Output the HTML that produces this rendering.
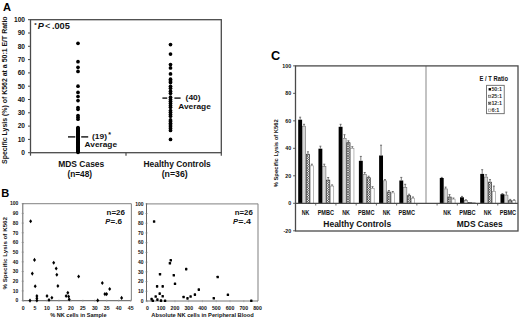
<!DOCTYPE html>
<html><head><meta charset="utf-8"><title>Figure</title>
<style>
html,body{margin:0;padding:0;background:#fff;}
body{width:520px;height:322px;overflow:hidden;}
svg{display:block;font-family:"Liberation Sans",sans-serif;}
</style></head>
<body>
<svg width="520" height="322" viewBox="0 0 520 322" fill="#111">
<rect width="520" height="322" fill="#fff"/>
<text x="3" y="10.7" font-size="10.8" font-weight="bold" textLength="8" lengthAdjust="spacingAndGlyphs" fill="#000">A</text>
<text transform="translate(7.08,90.2) rotate(-90)" x="0" y="0" font-size="6.9" text-anchor="middle" font-weight="bold" textLength="147.6" lengthAdjust="spacingAndGlyphs">Specific Lysis (%) of K562 at a 50:1 E/T Ratio</text>
<text x="25" y="155.05" font-size="6.6" text-anchor="end" font-weight="bold">0</text>
<line x1="28" y1="152.7" x2="30.5" y2="152.7" stroke="#444" stroke-width="1"/>
<text x="25" y="141.75" font-size="6.6" text-anchor="end" font-weight="bold">10</text>
<line x1="28" y1="139.4" x2="30.5" y2="139.4" stroke="#444" stroke-width="1"/>
<text x="25" y="128.45" font-size="6.6" text-anchor="end" font-weight="bold">20</text>
<line x1="28" y1="126.1" x2="30.5" y2="126.1" stroke="#444" stroke-width="1"/>
<text x="25" y="115.15" font-size="6.6" text-anchor="end" font-weight="bold">30</text>
<line x1="28" y1="112.8" x2="30.5" y2="112.8" stroke="#444" stroke-width="1"/>
<text x="25" y="101.85" font-size="6.6" text-anchor="end" font-weight="bold">40</text>
<line x1="28" y1="99.5" x2="30.5" y2="99.5" stroke="#444" stroke-width="1"/>
<text x="25" y="88.55" font-size="6.6" text-anchor="end" font-weight="bold">50</text>
<line x1="28" y1="86.2" x2="30.5" y2="86.2" stroke="#444" stroke-width="1"/>
<text x="25" y="75.25" font-size="6.6" text-anchor="end" font-weight="bold">60</text>
<line x1="28" y1="72.9" x2="30.5" y2="72.9" stroke="#444" stroke-width="1"/>
<text x="25" y="61.95" font-size="6.6" text-anchor="end" font-weight="bold">70</text>
<line x1="28" y1="59.6" x2="30.5" y2="59.6" stroke="#444" stroke-width="1"/>
<text x="25" y="48.65" font-size="6.6" text-anchor="end" font-weight="bold">80</text>
<line x1="28" y1="46.3" x2="30.5" y2="46.3" stroke="#444" stroke-width="1"/>
<text x="25" y="35.35" font-size="6.6" text-anchor="end" font-weight="bold">90</text>
<line x1="28" y1="33" x2="30.5" y2="33" stroke="#444" stroke-width="1"/>
<text x="25" y="22.05" font-size="6.6" text-anchor="end" font-weight="bold">100</text>
<line x1="28" y1="19.7" x2="30.5" y2="19.7" stroke="#444" stroke-width="1"/>
<rect x="30.5" y="19.7" width="190.8" height="133" fill="none" stroke="#4a4a4a" stroke-width="1.3"/>
<line x1="30.5" y1="152.7" x2="30.5" y2="155.7" stroke="#4a4a4a" stroke-width="1.2"/>
<line x1="126" y1="152.7" x2="126" y2="155.7" stroke="#4a4a4a" stroke-width="1.2"/>
<line x1="221.3" y1="152.7" x2="221.3" y2="155.7" stroke="#4a4a4a" stroke-width="1.2"/>
<text x="34.2" y="27" font-size="6.2" font-weight="bold">*</text>
<text x="37.8" y="29.4" font-size="8.6" font-weight="bold" font-style="italic" textLength="6.1" lengthAdjust="spacingAndGlyphs">P</text>
<text x="44.9" y="29.4" font-size="8.6" textLength="5.4" lengthAdjust="spacingAndGlyphs" fill="#000">&lt;</text>
<text x="51.9" y="29.4" font-size="8.6" font-weight="bold" textLength="18" lengthAdjust="spacingAndGlyphs">.005</text>
<circle cx="78" cy="43.3" r="1.85" fill="#000"/>
<circle cx="78" cy="61.7" r="1.85" fill="#000"/>
<circle cx="78" cy="67.3" r="1.85" fill="#000"/>
<circle cx="78" cy="71.4" r="1.85" fill="#000"/>
<circle cx="78" cy="86.2" r="1.85" fill="#000"/>
<circle cx="78" cy="92.4" r="1.85" fill="#000"/>
<circle cx="78" cy="96.5" r="1.85" fill="#000"/>
<circle cx="78" cy="100.6" r="1.85" fill="#000"/>
<circle cx="78" cy="107.5" r="1.85" fill="#000"/>
<circle cx="78" cy="109.3" r="1.85" fill="#000"/>
<circle cx="78" cy="115.5" r="1.85" fill="#000"/>
<circle cx="78" cy="117.3" r="1.85" fill="#000"/>
<circle cx="78" cy="119.2" r="1.85" fill="#000"/>
<circle cx="78" cy="127.6" r="1.85" fill="#000"/>
<circle cx="78" cy="128.33" r="1.85" fill="#000"/>
<circle cx="78" cy="129.05" r="1.85" fill="#000"/>
<circle cx="78" cy="129.78" r="1.85" fill="#000"/>
<circle cx="78" cy="130.51" r="1.85" fill="#000"/>
<circle cx="78" cy="131.23" r="1.85" fill="#000"/>
<circle cx="78" cy="131.96" r="1.85" fill="#000"/>
<circle cx="78" cy="132.69" r="1.85" fill="#000"/>
<circle cx="78" cy="133.41" r="1.85" fill="#000"/>
<circle cx="78" cy="134.14" r="1.85" fill="#000"/>
<circle cx="78" cy="134.86" r="1.85" fill="#000"/>
<circle cx="78" cy="135.59" r="1.85" fill="#000"/>
<circle cx="78" cy="136.32" r="1.85" fill="#000"/>
<circle cx="78" cy="137.04" r="1.85" fill="#000"/>
<circle cx="78" cy="137.77" r="1.85" fill="#000"/>
<circle cx="78" cy="138.5" r="1.85" fill="#000"/>
<circle cx="78" cy="139.22" r="1.85" fill="#000"/>
<circle cx="78" cy="139.95" r="1.85" fill="#000"/>
<circle cx="78" cy="140.68" r="1.85" fill="#000"/>
<circle cx="78" cy="141.4" r="1.85" fill="#000"/>
<circle cx="78" cy="142.13" r="1.85" fill="#000"/>
<circle cx="78" cy="142.86" r="1.85" fill="#000"/>
<circle cx="78" cy="143.58" r="1.85" fill="#000"/>
<circle cx="78" cy="144.31" r="1.85" fill="#000"/>
<circle cx="78" cy="145.04" r="1.85" fill="#000"/>
<circle cx="78" cy="145.76" r="1.85" fill="#000"/>
<circle cx="78" cy="146.49" r="1.85" fill="#000"/>
<circle cx="78" cy="147.21" r="1.85" fill="#000"/>
<circle cx="78" cy="147.94" r="1.85" fill="#000"/>
<circle cx="78" cy="148.67" r="1.85" fill="#000"/>
<circle cx="78" cy="149.39" r="1.85" fill="#000"/>
<circle cx="78" cy="150.12" r="1.85" fill="#000"/>
<circle cx="78" cy="150.85" r="1.85" fill="#000"/>
<circle cx="78" cy="151.57" r="1.85" fill="#000"/>
<circle cx="78" cy="152.3" r="1.85" fill="#000"/>
<circle cx="170.5" cy="44.6" r="1.85" fill="#000"/>
<circle cx="170.5" cy="54.1" r="1.85" fill="#000"/>
<circle cx="170.5" cy="64.5" r="1.85" fill="#000"/>
<circle cx="170.5" cy="67.9" r="1.85" fill="#000"/>
<circle cx="170.5" cy="73.9" r="1.85" fill="#000"/>
<circle cx="170.5" cy="139.4" r="1.85" fill="#000"/>
<circle cx="170.5" cy="79.2" r="1.85" fill="#000"/>
<circle cx="170.5" cy="80.9" r="1.85" fill="#000"/>
<circle cx="170.5" cy="82.6" r="1.85" fill="#000"/>
<circle cx="170.5" cy="86.3" r="1.85" fill="#000"/>
<circle cx="170.5" cy="88.2" r="1.85" fill="#000"/>
<circle cx="170.5" cy="91.2" r="1.85" fill="#000"/>
<circle cx="170.5" cy="93.3" r="1.85" fill="#000"/>
<circle cx="170.5" cy="97.2" r="1.85" fill="#000"/>
<circle cx="170.5" cy="99.4" r="1.85" fill="#000"/>
<circle cx="170.5" cy="101.3" r="1.85" fill="#000"/>
<circle cx="170.5" cy="103.2" r="1.85" fill="#000"/>
<circle cx="170.5" cy="105.4" r="1.85" fill="#000"/>
<circle cx="170.5" cy="107.3" r="1.85" fill="#000"/>
<circle cx="170.5" cy="110.6" r="1.85" fill="#000"/>
<circle cx="170.5" cy="112.3" r="1.85" fill="#000"/>
<circle cx="170.5" cy="114.5" r="1.85" fill="#000"/>
<circle cx="170.5" cy="116.2" r="1.85" fill="#000"/>
<circle cx="170.5" cy="119.9" r="1.85" fill="#000"/>
<circle cx="170.5" cy="121.4" r="1.85" fill="#000"/>
<circle cx="170.5" cy="123.3" r="1.85" fill="#000"/>
<circle cx="170.5" cy="124.9" r="1.85" fill="#000"/>
<circle cx="170.5" cy="126.7" r="1.85" fill="#000"/>
<circle cx="170.5" cy="128.4" r="1.85" fill="#000"/>
<circle cx="170.5" cy="130.4" r="1.85" fill="#000"/>
<line x1="68" y1="136.9" x2="75.3" y2="136.9" stroke="#111" stroke-width="1.4"/>
<line x1="81.2" y1="136.9" x2="88.2" y2="136.9" stroke="#111" stroke-width="1.4"/>
<line x1="162.4" y1="98.1" x2="167.2" y2="98.1" stroke="#111" stroke-width="1.4"/>
<line x1="174.4" y1="98.1" x2="180.6" y2="98.1" stroke="#111" stroke-width="1.4"/>
<text x="92" y="139.3" font-size="7.5" font-weight="bold" textLength="15" lengthAdjust="spacingAndGlyphs">(19)</text>
<text x="108.2" y="136.5" font-size="7" font-weight="bold">*</text>
<text x="84.6" y="147.2" font-size="7.5" font-weight="bold" textLength="32.4" lengthAdjust="spacingAndGlyphs">Average</text>
<text x="185.6" y="100.3" font-size="7.5" font-weight="bold" textLength="15" lengthAdjust="spacingAndGlyphs">(40)</text>
<text x="178.2" y="108.5" font-size="7.5" font-weight="bold" textLength="32.6" lengthAdjust="spacingAndGlyphs">Average</text>
<text x="58.2" y="167.2" font-size="8.6" font-weight="bold" textLength="46.1" lengthAdjust="spacingAndGlyphs">MDS Cases</text>
<text x="67.4" y="176.8" font-size="8.6" font-weight="bold" textLength="24.6" lengthAdjust="spacingAndGlyphs">(n=48)</text>
<text x="143.5" y="167.2" font-size="8.6" font-weight="bold" textLength="67.3" lengthAdjust="spacingAndGlyphs">Healthy Controls</text>
<text x="161.7" y="176.8" font-size="8.6" font-weight="bold" textLength="26" lengthAdjust="spacingAndGlyphs">(n=36)</text>
<text x="1.2" y="196.8" font-size="11.5" font-weight="bold" textLength="8" lengthAdjust="spacingAndGlyphs" fill="#000">B</text>
<line x1="22.8" y1="203.7" x2="131.4" y2="203.7" stroke="#9a9a9a" stroke-width="1.3"/>
<line x1="131.4" y1="203.7" x2="131.4" y2="300.6" stroke="#8a8a8a" stroke-width="1.1"/>
<line x1="22.8" y1="300.6" x2="131.4" y2="300.6" stroke="#777" stroke-width="1.2"/>
<line x1="22.8" y1="203.1" x2="22.8" y2="301.2" stroke="#666" stroke-width="1"/>
<text x="18.3" y="302.35" font-size="5" text-anchor="end" font-weight="bold">0</text>
<line x1="21.6" y1="300.6" x2="24" y2="300.6" stroke="#888" stroke-width="0.6"/>
<text x="18.3" y="292.66" font-size="5" text-anchor="end" font-weight="bold">10</text>
<line x1="21.6" y1="290.91" x2="24" y2="290.91" stroke="#888" stroke-width="0.6"/>
<text x="18.3" y="282.97" font-size="5" text-anchor="end" font-weight="bold">20</text>
<line x1="21.6" y1="281.22" x2="24" y2="281.22" stroke="#888" stroke-width="0.6"/>
<text x="18.3" y="273.28" font-size="5" text-anchor="end" font-weight="bold">30</text>
<line x1="21.6" y1="271.53" x2="24" y2="271.53" stroke="#888" stroke-width="0.6"/>
<text x="18.3" y="263.59" font-size="5" text-anchor="end" font-weight="bold">40</text>
<line x1="21.6" y1="261.84" x2="24" y2="261.84" stroke="#888" stroke-width="0.6"/>
<text x="18.3" y="253.9" font-size="5" text-anchor="end" font-weight="bold">50</text>
<line x1="21.6" y1="252.15" x2="24" y2="252.15" stroke="#888" stroke-width="0.6"/>
<text x="18.3" y="244.21" font-size="5" text-anchor="end" font-weight="bold">60</text>
<line x1="21.6" y1="242.46" x2="24" y2="242.46" stroke="#888" stroke-width="0.6"/>
<text x="18.3" y="234.52" font-size="5" text-anchor="end" font-weight="bold">70</text>
<line x1="21.6" y1="232.77" x2="24" y2="232.77" stroke="#888" stroke-width="0.6"/>
<text x="18.3" y="224.83" font-size="5" text-anchor="end" font-weight="bold">80</text>
<line x1="21.6" y1="223.08" x2="24" y2="223.08" stroke="#888" stroke-width="0.6"/>
<text x="18.3" y="215.14" font-size="5" text-anchor="end" font-weight="bold">90</text>
<line x1="21.6" y1="213.39" x2="24" y2="213.39" stroke="#888" stroke-width="0.6"/>
<text x="18.3" y="205.45" font-size="5" text-anchor="end" font-weight="bold">100</text>
<line x1="21.6" y1="203.7" x2="24" y2="203.7" stroke="#888" stroke-width="0.6"/>
<text x="23.1" y="309.5" font-size="5.2" text-anchor="middle" font-weight="bold">0</text>
<line x1="23.1" y1="299.6" x2="23.1" y2="301.8" stroke="#999" stroke-width="0.6"/>
<text x="35.05" y="309.5" font-size="5.2" text-anchor="middle" font-weight="bold">5</text>
<line x1="35.05" y1="299.6" x2="35.05" y2="301.8" stroke="#999" stroke-width="0.6"/>
<text x="47" y="309.5" font-size="5.2" text-anchor="middle" font-weight="bold">10</text>
<line x1="47" y1="299.6" x2="47" y2="301.8" stroke="#999" stroke-width="0.6"/>
<text x="58.95" y="309.5" font-size="5.2" text-anchor="middle" font-weight="bold">15</text>
<line x1="58.95" y1="299.6" x2="58.95" y2="301.8" stroke="#999" stroke-width="0.6"/>
<text x="70.9" y="309.5" font-size="5.2" text-anchor="middle" font-weight="bold">20</text>
<line x1="70.9" y1="299.6" x2="70.9" y2="301.8" stroke="#999" stroke-width="0.6"/>
<text x="82.85" y="309.5" font-size="5.2" text-anchor="middle" font-weight="bold">25</text>
<line x1="82.85" y1="299.6" x2="82.85" y2="301.8" stroke="#999" stroke-width="0.6"/>
<text x="94.8" y="309.5" font-size="5.2" text-anchor="middle" font-weight="bold">30</text>
<line x1="94.8" y1="299.6" x2="94.8" y2="301.8" stroke="#999" stroke-width="0.6"/>
<text x="106.75" y="309.5" font-size="5.2" text-anchor="middle" font-weight="bold">35</text>
<line x1="106.75" y1="299.6" x2="106.75" y2="301.8" stroke="#999" stroke-width="0.6"/>
<text x="118.7" y="309.5" font-size="5.2" text-anchor="middle" font-weight="bold">40</text>
<line x1="118.7" y1="299.6" x2="118.7" y2="301.8" stroke="#999" stroke-width="0.6"/>
<text x="130.65" y="309.5" font-size="5.2" text-anchor="middle" font-weight="bold">45</text>
<line x1="130.65" y1="299.6" x2="130.65" y2="301.8" stroke="#999" stroke-width="0.6"/>
<text x="50.3" y="316.8" font-size="5.6" font-weight="bold" textLength="56.2" lengthAdjust="spacingAndGlyphs">% NK cells in Sample</text>
<path d="M30.6 219.15L32.1 221.2L30.6 223.25L29.1 221.2Z" fill="#000"/>
<path d="M34.5 257.85L36 259.9L34.5 261.95L33 259.9Z" fill="#000"/>
<path d="M32.3 271.55L33.8 273.6L32.3 275.65L30.8 273.6Z" fill="#000"/>
<path d="M35.2 284.15L36.7 286.2L35.2 288.25L33.7 286.2Z" fill="#000"/>
<path d="M30 298.55L31.5 300.6L30 302.65L28.5 300.6Z" fill="#000"/>
<path d="M36.9 293.95L38.4 296L36.9 298.05L35.4 296Z" fill="#000"/>
<path d="M36.9 296.25L38.4 298.3L36.9 300.35L35.4 298.3Z" fill="#000"/>
<path d="M36.9 298.35L38.4 300.4L36.9 302.45L35.4 300.4Z" fill="#000"/>
<path d="M47 293.95L48.5 296L47 298.05L45.5 296Z" fill="#000"/>
<path d="M49 297.95L50.5 300L49 302.05L47.5 300Z" fill="#000"/>
<path d="M51.9 295.65L53.4 297.7L51.9 299.75L50.4 297.7Z" fill="#000"/>
<path d="M53.7 260.75L55.2 262.8L53.7 264.85L52.2 262.8Z" fill="#000"/>
<path d="M56.2 266.45L57.7 268.5L56.2 270.55L54.7 268.5Z" fill="#000"/>
<path d="M56.8 272.75L58.3 274.8L56.8 276.85L55.3 274.8Z" fill="#000"/>
<path d="M57.9 283.95L59.4 286L57.9 288.05L56.4 286Z" fill="#000"/>
<path d="M66.1 293.95L67.6 296L66.1 298.05L64.6 296Z" fill="#000"/>
<path d="M67.8 290.75L69.3 292.8L67.8 294.85L66.3 292.8Z" fill="#000"/>
<path d="M68.6 294.45L70.1 296.5L68.6 298.55L67.1 296.5Z" fill="#000"/>
<path d="M69.2 297.35L70.7 299.4L69.2 301.45L67.7 299.4Z" fill="#000"/>
<path d="M78.6 274.45L80.1 276.5L78.6 278.55L77.1 276.5Z" fill="#000"/>
<path d="M97.7 298.35L99.2 300.4L97.7 302.45L96.2 300.4Z" fill="#000"/>
<path d="M102.3 280.95L103.8 283L102.3 285.05L100.8 283Z" fill="#000"/>
<path d="M109.7 286.95L111.2 289L109.7 291.05L108.2 289Z" fill="#000"/>
<path d="M104.9 292.05L106.4 294.1L104.9 296.15L103.4 294.1Z" fill="#000"/>
<path d="M106.6 292.05L108.1 294.1L106.6 296.15L105.1 294.1Z" fill="#000"/>
<path d="M121.6 295.85L123.1 297.9L121.6 299.95L120.1 297.9Z" fill="#000"/>
<text x="106.6" y="215.3" font-size="7.3" font-weight="bold" textLength="18.4" lengthAdjust="spacingAndGlyphs">n=26</text>
<text x="105.2" y="223.7" font-size="7.3" font-weight="bold" font-style="italic" textLength="5" lengthAdjust="spacingAndGlyphs">P</text>
<text x="110.5" y="223.7" font-size="7.3" font-weight="bold" textLength="11.5" lengthAdjust="spacingAndGlyphs">=.6</text>
<line x1="146.5" y1="203.8" x2="258" y2="203.8" stroke="#9a9a9a" stroke-width="1.3"/>
<line x1="258" y1="203.8" x2="258" y2="301" stroke="#8a8a8a" stroke-width="1.1"/>
<line x1="146.5" y1="301" x2="258" y2="301" stroke="#777" stroke-width="1.2"/>
<line x1="146.5" y1="203.2" x2="146.5" y2="301.6" stroke="#666" stroke-width="1"/>
<text x="143.6" y="302.75" font-size="5" text-anchor="end" font-weight="bold">0</text>
<line x1="145.3" y1="301" x2="147.7" y2="301" stroke="#888" stroke-width="0.6"/>
<text x="143.6" y="293.03" font-size="5" text-anchor="end" font-weight="bold">10</text>
<line x1="145.3" y1="291.28" x2="147.7" y2="291.28" stroke="#888" stroke-width="0.6"/>
<text x="143.6" y="283.31" font-size="5" text-anchor="end" font-weight="bold">20</text>
<line x1="145.3" y1="281.56" x2="147.7" y2="281.56" stroke="#888" stroke-width="0.6"/>
<text x="143.6" y="273.59" font-size="5" text-anchor="end" font-weight="bold">30</text>
<line x1="145.3" y1="271.84" x2="147.7" y2="271.84" stroke="#888" stroke-width="0.6"/>
<text x="143.6" y="263.87" font-size="5" text-anchor="end" font-weight="bold">40</text>
<line x1="145.3" y1="262.12" x2="147.7" y2="262.12" stroke="#888" stroke-width="0.6"/>
<text x="143.6" y="254.15" font-size="5" text-anchor="end" font-weight="bold">50</text>
<line x1="145.3" y1="252.4" x2="147.7" y2="252.4" stroke="#888" stroke-width="0.6"/>
<text x="143.6" y="244.43" font-size="5" text-anchor="end" font-weight="bold">60</text>
<line x1="145.3" y1="242.68" x2="147.7" y2="242.68" stroke="#888" stroke-width="0.6"/>
<text x="143.6" y="234.71" font-size="5" text-anchor="end" font-weight="bold">70</text>
<line x1="145.3" y1="232.96" x2="147.7" y2="232.96" stroke="#888" stroke-width="0.6"/>
<text x="143.6" y="224.99" font-size="5" text-anchor="end" font-weight="bold">80</text>
<line x1="145.3" y1="223.24" x2="147.7" y2="223.24" stroke="#888" stroke-width="0.6"/>
<text x="143.6" y="215.27" font-size="5" text-anchor="end" font-weight="bold">90</text>
<line x1="145.3" y1="213.52" x2="147.7" y2="213.52" stroke="#888" stroke-width="0.6"/>
<text x="143.6" y="205.55" font-size="5" text-anchor="end" font-weight="bold">100</text>
<line x1="145.3" y1="203.8" x2="147.7" y2="203.8" stroke="#888" stroke-width="0.6"/>
<text x="147.4" y="310.2" font-size="5.2" text-anchor="middle" font-weight="bold">0</text>
<line x1="147.4" y1="300" x2="147.4" y2="302.2" stroke="#999" stroke-width="0.6"/>
<text x="161.17" y="310.2" font-size="5.2" text-anchor="middle" font-weight="bold">100</text>
<line x1="161.17" y1="300" x2="161.17" y2="302.2" stroke="#999" stroke-width="0.6"/>
<text x="174.94" y="310.2" font-size="5.2" text-anchor="middle" font-weight="bold">200</text>
<line x1="174.94" y1="300" x2="174.94" y2="302.2" stroke="#999" stroke-width="0.6"/>
<text x="188.71" y="310.2" font-size="5.2" text-anchor="middle" font-weight="bold">300</text>
<line x1="188.71" y1="300" x2="188.71" y2="302.2" stroke="#999" stroke-width="0.6"/>
<text x="202.48" y="310.2" font-size="5.2" text-anchor="middle" font-weight="bold">400</text>
<line x1="202.48" y1="300" x2="202.48" y2="302.2" stroke="#999" stroke-width="0.6"/>
<text x="216.25" y="310.2" font-size="5.2" text-anchor="middle" font-weight="bold">500</text>
<line x1="216.25" y1="300" x2="216.25" y2="302.2" stroke="#999" stroke-width="0.6"/>
<text x="230.02" y="310.2" font-size="5.2" text-anchor="middle" font-weight="bold">600</text>
<line x1="230.02" y1="300" x2="230.02" y2="302.2" stroke="#999" stroke-width="0.6"/>
<text x="243.79" y="310.2" font-size="5.2" text-anchor="middle" font-weight="bold">700</text>
<line x1="243.79" y1="300" x2="243.79" y2="302.2" stroke="#999" stroke-width="0.6"/>
<text x="257.56" y="310.2" font-size="5.2" text-anchor="middle" font-weight="bold">800</text>
<line x1="257.56" y1="300" x2="257.56" y2="302.2" stroke="#999" stroke-width="0.6"/>
<text x="151.3" y="316.8" font-size="5.6" font-weight="bold" textLength="102.5" lengthAdjust="spacingAndGlyphs">Absolute NK cells in Peripheral Blood</text>
<rect x="152.9" y="220.2" width="2.4" height="2.6" rx="0.6" fill="#000"/>
<rect x="169.6" y="259" width="2.4" height="2.6" rx="0.6" fill="#000"/>
<rect x="168.7" y="262" width="2.4" height="2.6" rx="0.6" fill="#000"/>
<rect x="158.8" y="273" width="2.4" height="2.6" rx="0.6" fill="#000"/>
<rect x="185" y="267.8" width="2.4" height="2.6" rx="0.6" fill="#000"/>
<rect x="172.6" y="274" width="2.4" height="2.6" rx="0.6" fill="#000"/>
<rect x="173.8" y="282.5" width="2.4" height="2.6" rx="0.6" fill="#000"/>
<rect x="155.9" y="285.1" width="2.4" height="2.6" rx="0.6" fill="#000"/>
<rect x="161.5" y="285.1" width="2.4" height="2.6" rx="0.6" fill="#000"/>
<rect x="158.5" y="292.3" width="2.4" height="2.6" rx="0.6" fill="#000"/>
<rect x="154.5" y="295.2" width="2.4" height="2.6" rx="0.6" fill="#000"/>
<rect x="161.5" y="294.9" width="2.4" height="2.6" rx="0.6" fill="#000"/>
<rect x="150.4" y="297.8" width="2.4" height="2.6" rx="0.6" fill="#000"/>
<rect x="151.6" y="299.5" width="2.4" height="2.6" rx="0.6" fill="#000"/>
<rect x="156.2" y="298.3" width="2.4" height="2.6" rx="0.6" fill="#000"/>
<rect x="159.8" y="299.3" width="2.4" height="2.6" rx="0.6" fill="#000"/>
<rect x="163.9" y="299.5" width="2.4" height="2.6" rx="0.6" fill="#000"/>
<rect x="182.4" y="295.7" width="2.4" height="2.6" rx="0.6" fill="#000"/>
<rect x="186.3" y="297.1" width="2.4" height="2.6" rx="0.6" fill="#000"/>
<rect x="189.4" y="295.2" width="2.4" height="2.6" rx="0.6" fill="#000"/>
<rect x="193.7" y="293.3" width="2.4" height="2.6" rx="0.6" fill="#000"/>
<rect x="197.6" y="288.3" width="2.4" height="2.6" rx="0.6" fill="#000"/>
<rect x="216.5" y="275.7" width="2.4" height="2.6" rx="0.6" fill="#000"/>
<rect x="212.6" y="297" width="2.4" height="2.6" rx="0.6" fill="#000"/>
<rect x="226.7" y="293.4" width="2.4" height="2.6" rx="0.6" fill="#000"/>
<rect x="250.1" y="299.5" width="2.4" height="2.6" rx="0.6" fill="#000"/>
<text x="234.7" y="215" font-size="7.3" font-weight="bold" textLength="18.1" lengthAdjust="spacingAndGlyphs">n=26</text>
<text x="233" y="224.1" font-size="7.3" font-weight="bold" font-style="italic" textLength="5" lengthAdjust="spacingAndGlyphs">P</text>
<text x="238.3" y="224.1" font-size="7.3" font-weight="bold" textLength="12.7" lengthAdjust="spacingAndGlyphs">=.4</text>
<text transform="translate(6.53,253.3) rotate(-90)" x="0" y="0" font-size="6.2" text-anchor="middle" font-weight="bold" textLength="72.6" lengthAdjust="spacingAndGlyphs">% Specific Lysis of K562</text>
<text x="271" y="60.1" font-size="12.6" font-weight="bold" textLength="9.2" lengthAdjust="spacingAndGlyphs" fill="#000">C</text>
<text transform="translate(277.69,153.3) rotate(-90)" x="0" y="0" font-size="5.8" text-anchor="middle" font-weight="bold" textLength="68" lengthAdjust="spacingAndGlyphs">% Specific Lysis of K562</text>
<text x="291.2" y="232.69" font-size="5.3" text-anchor="end" font-weight="bold">-20</text>
<text x="291.2" y="205.2" font-size="5.3" text-anchor="end" font-weight="bold">0</text>
<text x="291.2" y="177.71" font-size="5.3" text-anchor="end" font-weight="bold">20</text>
<text x="291.2" y="150.22" font-size="5.3" text-anchor="end" font-weight="bold">40</text>
<text x="291.2" y="122.73" font-size="5.3" text-anchor="end" font-weight="bold">60</text>
<text x="291.2" y="95.24" font-size="5.3" text-anchor="end" font-weight="bold">80</text>
<text x="291.2" y="67.75" font-size="5.3" text-anchor="end" font-weight="bold">100</text>
<defs><pattern id="hatch" width="2.4" height="2.4" patternUnits="userSpaceOnUse"><rect width="2.4" height="2.4" fill="#fff"/><path d="M-0.6 -0.6L3 3M3 -0.6L-0.6 3" stroke="#111" stroke-width="0.55"/></pattern></defs>
<rect x="298.2" y="119.7" width="3.9" height="83.6" fill="#000" stroke="none" stroke-width="1"/>
<line x1="300.15" y1="117.2" x2="300.15" y2="119.7" stroke="#555" stroke-width="0.8"/>
<line x1="299.15" y1="117.2" x2="301.15" y2="117.2" stroke="#555" stroke-width="0.8"/>
<rect x="302.4" y="126.2" width="3.3" height="77.1" fill="#d6d6d6" stroke="#666" stroke-width="0.55"/>
<line x1="304.05" y1="124.3" x2="304.05" y2="125.9" stroke="#555" stroke-width="0.8"/>
<line x1="303.05" y1="124.3" x2="305.05" y2="124.3" stroke="#555" stroke-width="0.8"/>
<rect x="306.3" y="154.2" width="3.3" height="49.1" fill="url(#hatch)" stroke="#222" stroke-width="0.6"/>
<line x1="307.95" y1="151.8" x2="307.95" y2="153.9" stroke="#555" stroke-width="0.8"/>
<line x1="306.95" y1="151.8" x2="308.95" y2="151.8" stroke="#555" stroke-width="0.8"/>
<rect x="310.2" y="165.8" width="3.3" height="37.5" fill="#fff" stroke="#888" stroke-width="0.6"/>
<line x1="311.85" y1="164.2" x2="311.85" y2="165.5" stroke="#555" stroke-width="0.8"/>
<line x1="310.85" y1="164.2" x2="312.85" y2="164.2" stroke="#555" stroke-width="0.8"/>
<rect x="318.43" y="148.7" width="3.9" height="54.6" fill="#000" stroke="none" stroke-width="1"/>
<line x1="320.38" y1="146.2" x2="320.38" y2="148.7" stroke="#555" stroke-width="0.8"/>
<line x1="319.38" y1="146.2" x2="321.38" y2="146.2" stroke="#555" stroke-width="0.8"/>
<rect x="322.63" y="166.6" width="3.3" height="36.7" fill="#d6d6d6" stroke="#666" stroke-width="0.55"/>
<line x1="324.28" y1="164.2" x2="324.28" y2="166.3" stroke="#555" stroke-width="0.8"/>
<line x1="323.28" y1="164.2" x2="325.28" y2="164.2" stroke="#555" stroke-width="0.8"/>
<rect x="326.53" y="180.1" width="3.3" height="23.2" fill="url(#hatch)" stroke="#222" stroke-width="0.6"/>
<line x1="328.18" y1="177.5" x2="328.18" y2="179.8" stroke="#555" stroke-width="0.8"/>
<line x1="327.18" y1="177.5" x2="329.18" y2="177.5" stroke="#555" stroke-width="0.8"/>
<rect x="330.43" y="186.1" width="3.3" height="17.2" fill="#fff" stroke="#888" stroke-width="0.6"/>
<line x1="332.08" y1="184.9" x2="332.08" y2="185.8" stroke="#555" stroke-width="0.8"/>
<line x1="331.08" y1="184.9" x2="333.08" y2="184.9" stroke="#555" stroke-width="0.8"/>
<rect x="338.65" y="126.8" width="3.9" height="76.5" fill="#000" stroke="none" stroke-width="1"/>
<line x1="340.6" y1="124.3" x2="340.6" y2="126.8" stroke="#555" stroke-width="0.8"/>
<line x1="339.6" y1="124.3" x2="341.6" y2="124.3" stroke="#555" stroke-width="0.8"/>
<rect x="342.85" y="138.3" width="3.3" height="65" fill="#d6d6d6" stroke="#666" stroke-width="0.55"/>
<line x1="344.5" y1="134.7" x2="344.5" y2="138" stroke="#555" stroke-width="0.8"/>
<line x1="343.5" y1="134.7" x2="345.5" y2="134.7" stroke="#555" stroke-width="0.8"/>
<rect x="346.75" y="142.7" width="3.3" height="60.6" fill="url(#hatch)" stroke="#222" stroke-width="0.6"/>
<line x1="348.4" y1="140.8" x2="348.4" y2="142.4" stroke="#555" stroke-width="0.8"/>
<line x1="347.4" y1="140.8" x2="349.4" y2="140.8" stroke="#555" stroke-width="0.8"/>
<rect x="350.65" y="148.3" width="3.3" height="55" fill="#fff" stroke="#888" stroke-width="0.6"/>
<line x1="352.3" y1="146.7" x2="352.3" y2="148" stroke="#555" stroke-width="0.8"/>
<line x1="351.3" y1="146.7" x2="353.3" y2="146.7" stroke="#555" stroke-width="0.8"/>
<rect x="358.88" y="160.8" width="3.9" height="42.5" fill="#000" stroke="none" stroke-width="1"/>
<line x1="360.83" y1="156.4" x2="360.83" y2="160.8" stroke="#555" stroke-width="0.8"/>
<line x1="359.83" y1="156.4" x2="361.83" y2="156.4" stroke="#555" stroke-width="0.8"/>
<rect x="363.08" y="174.6" width="3.3" height="28.7" fill="#d6d6d6" stroke="#666" stroke-width="0.55"/>
<line x1="364.73" y1="172.5" x2="364.73" y2="174.3" stroke="#555" stroke-width="0.8"/>
<line x1="363.73" y1="172.5" x2="365.73" y2="172.5" stroke="#555" stroke-width="0.8"/>
<rect x="366.98" y="177.7" width="3.3" height="25.6" fill="url(#hatch)" stroke="#222" stroke-width="0.6"/>
<line x1="368.63" y1="176.2" x2="368.63" y2="177.4" stroke="#555" stroke-width="0.8"/>
<line x1="367.63" y1="176.2" x2="369.63" y2="176.2" stroke="#555" stroke-width="0.8"/>
<rect x="370.88" y="188.3" width="3.3" height="15" fill="#fff" stroke="#888" stroke-width="0.6"/>
<line x1="372.53" y1="186.7" x2="372.53" y2="188" stroke="#555" stroke-width="0.8"/>
<line x1="371.53" y1="186.7" x2="373.53" y2="186.7" stroke="#555" stroke-width="0.8"/>
<rect x="379.11" y="155.5" width="3.9" height="47.8" fill="#000" stroke="none" stroke-width="1"/>
<line x1="381.06" y1="145.2" x2="381.06" y2="155.5" stroke="#555" stroke-width="0.8"/>
<line x1="380.06" y1="145.2" x2="382.06" y2="145.2" stroke="#555" stroke-width="0.8"/>
<rect x="383.31" y="180.8" width="3.3" height="22.5" fill="#d6d6d6" stroke="#666" stroke-width="0.55"/>
<line x1="384.96" y1="179.6" x2="384.96" y2="180.5" stroke="#555" stroke-width="0.8"/>
<line x1="383.96" y1="179.6" x2="385.96" y2="179.6" stroke="#555" stroke-width="0.8"/>
<rect x="387.21" y="192" width="3.3" height="11.3" fill="url(#hatch)" stroke="#222" stroke-width="0.6"/>
<line x1="388.86" y1="190.5" x2="388.86" y2="191.7" stroke="#555" stroke-width="0.8"/>
<line x1="387.86" y1="190.5" x2="389.86" y2="190.5" stroke="#555" stroke-width="0.8"/>
<rect x="391.11" y="192.9" width="3.3" height="10.4" fill="#fff" stroke="#888" stroke-width="0.6"/>
<line x1="392.76" y1="191.5" x2="392.76" y2="192.6" stroke="#555" stroke-width="0.8"/>
<line x1="391.76" y1="191.5" x2="393.76" y2="191.5" stroke="#555" stroke-width="0.8"/>
<rect x="399.34" y="180.5" width="3.9" height="22.8" fill="#000" stroke="none" stroke-width="1"/>
<line x1="401.29" y1="177.4" x2="401.29" y2="180.5" stroke="#555" stroke-width="0.8"/>
<line x1="400.29" y1="177.4" x2="402.29" y2="177.4" stroke="#555" stroke-width="0.8"/>
<rect x="403.54" y="187.7" width="3.3" height="15.6" fill="#d6d6d6" stroke="#666" stroke-width="0.55"/>
<line x1="405.19" y1="184.3" x2="405.19" y2="187.4" stroke="#555" stroke-width="0.8"/>
<line x1="404.19" y1="184.3" x2="406.19" y2="184.3" stroke="#555" stroke-width="0.8"/>
<rect x="407.44" y="195.7" width="3.3" height="7.6" fill="url(#hatch)" stroke="#222" stroke-width="0.6"/>
<line x1="409.09" y1="194.2" x2="409.09" y2="195.4" stroke="#555" stroke-width="0.8"/>
<line x1="408.09" y1="194.2" x2="410.09" y2="194.2" stroke="#555" stroke-width="0.8"/>
<rect x="411.34" y="198.2" width="3.3" height="5.1" fill="#fff" stroke="#888" stroke-width="0.6"/>
<line x1="412.99" y1="197" x2="412.99" y2="197.9" stroke="#555" stroke-width="0.8"/>
<line x1="411.99" y1="197" x2="413.99" y2="197" stroke="#555" stroke-width="0.8"/>
<rect x="439.79" y="178" width="3.9" height="25.3" fill="#000" stroke="none" stroke-width="1"/>
<line x1="441.74" y1="177.4" x2="441.74" y2="178" stroke="#555" stroke-width="0.8"/>
<line x1="440.74" y1="177.4" x2="442.74" y2="177.4" stroke="#555" stroke-width="0.8"/>
<rect x="443.99" y="188.9" width="3.3" height="14.4" fill="#d6d6d6" stroke="#666" stroke-width="0.55"/>
<line x1="445.64" y1="187.1" x2="445.64" y2="188.6" stroke="#555" stroke-width="0.8"/>
<line x1="444.64" y1="187.1" x2="446.64" y2="187.1" stroke="#555" stroke-width="0.8"/>
<rect x="447.89" y="197" width="3.3" height="6.3" fill="url(#hatch)" stroke="#222" stroke-width="0.6"/>
<line x1="449.54" y1="194.6" x2="449.54" y2="196.7" stroke="#555" stroke-width="0.8"/>
<line x1="448.54" y1="194.6" x2="450.54" y2="194.6" stroke="#555" stroke-width="0.8"/>
<rect x="451.79" y="199.1" width="3.3" height="4.2" fill="#fff" stroke="#888" stroke-width="0.6"/>
<line x1="453.44" y1="198" x2="453.44" y2="198.8" stroke="#555" stroke-width="0.8"/>
<line x1="452.44" y1="198" x2="454.44" y2="198" stroke="#555" stroke-width="0.8"/>
<rect x="460.02" y="197.3" width="3.9" height="6" fill="#000" stroke="none" stroke-width="1"/>
<line x1="461.97" y1="196.4" x2="461.97" y2="197.3" stroke="#555" stroke-width="0.8"/>
<line x1="460.97" y1="196.4" x2="462.97" y2="196.4" stroke="#555" stroke-width="0.8"/>
<rect x="464.22" y="200.7" width="3.3" height="2.6" fill="#d6d6d6" stroke="#666" stroke-width="0.55"/>
<line x1="465.87" y1="199.8" x2="465.87" y2="200.4" stroke="#555" stroke-width="0.8"/>
<line x1="464.87" y1="199.8" x2="466.87" y2="199.8" stroke="#555" stroke-width="0.8"/>
<rect x="468.12" y="202.5" width="3.3" height="0.8" fill="url(#hatch)" stroke="#222" stroke-width="0.6"/>
<rect x="472.02" y="202.7" width="3.3" height="0.6" fill="#fff" stroke="#888" stroke-width="0.6"/>
<rect x="480.25" y="173.9" width="3.9" height="29.4" fill="#000" stroke="none" stroke-width="1"/>
<line x1="482.2" y1="169.7" x2="482.2" y2="173.9" stroke="#555" stroke-width="0.8"/>
<line x1="481.2" y1="169.7" x2="483.2" y2="169.7" stroke="#555" stroke-width="0.8"/>
<rect x="484.45" y="177.1" width="3.3" height="26.2" fill="#d6d6d6" stroke="#666" stroke-width="0.55"/>
<line x1="486.1" y1="174.7" x2="486.1" y2="176.8" stroke="#555" stroke-width="0.8"/>
<line x1="485.1" y1="174.7" x2="487.1" y2="174.7" stroke="#555" stroke-width="0.8"/>
<rect x="488.35" y="182.1" width="3.3" height="21.2" fill="url(#hatch)" stroke="#222" stroke-width="0.6"/>
<line x1="490" y1="179.6" x2="490" y2="181.8" stroke="#555" stroke-width="0.8"/>
<line x1="489" y1="179.6" x2="491" y2="179.6" stroke="#555" stroke-width="0.8"/>
<rect x="492.25" y="191.3" width="3.3" height="12" fill="#fff" stroke="#888" stroke-width="0.6"/>
<line x1="493.9" y1="186.1" x2="493.9" y2="191" stroke="#555" stroke-width="0.8"/>
<line x1="492.9" y1="186.1" x2="494.9" y2="186.1" stroke="#555" stroke-width="0.8"/>
<rect x="500.47" y="194.2" width="3.9" height="9.1" fill="#000" stroke="none" stroke-width="1"/>
<line x1="502.42" y1="193.6" x2="502.42" y2="194.2" stroke="#555" stroke-width="0.8"/>
<line x1="501.42" y1="193.6" x2="503.42" y2="193.6" stroke="#555" stroke-width="0.8"/>
<rect x="504.67" y="195.1" width="3.3" height="8.2" fill="#d6d6d6" stroke="#666" stroke-width="0.55"/>
<line x1="506.32" y1="192.1" x2="506.32" y2="194.8" stroke="#555" stroke-width="0.8"/>
<line x1="505.32" y1="192.1" x2="507.32" y2="192.1" stroke="#555" stroke-width="0.8"/>
<rect x="508.57" y="200.7" width="3.3" height="2.6" fill="url(#hatch)" stroke="#222" stroke-width="0.6"/>
<line x1="510.22" y1="199.4" x2="510.22" y2="200.4" stroke="#555" stroke-width="0.8"/>
<line x1="509.22" y1="199.4" x2="511.22" y2="199.4" stroke="#555" stroke-width="0.8"/>
<rect x="512.47" y="200.7" width="3.3" height="2.6" fill="#fff" stroke="#888" stroke-width="0.6"/>
<line x1="514.12" y1="199.8" x2="514.12" y2="200.4" stroke="#555" stroke-width="0.8"/>
<line x1="513.12" y1="199.8" x2="515.12" y2="199.8" stroke="#555" stroke-width="0.8"/>
<line x1="426" y1="65.9" x2="426" y2="203.3" stroke="#bdbdbd" stroke-width="1.8"/>
<line x1="295.5" y1="203.3" x2="518" y2="203.3" stroke="#4a4a4a" stroke-width="1.2"/>
<rect x="295.5" y="65.9" width="222.5" height="165.1" fill="none" stroke="#4a4a4a" stroke-width="1.3"/>
<line x1="293.1" y1="230.79" x2="295.5" y2="230.79" stroke="#4a4a4a" stroke-width="0.9"/>
<line x1="293.1" y1="203.3" x2="295.5" y2="203.3" stroke="#4a4a4a" stroke-width="0.9"/>
<line x1="293.1" y1="175.81" x2="295.5" y2="175.81" stroke="#4a4a4a" stroke-width="0.9"/>
<line x1="293.1" y1="148.32" x2="295.5" y2="148.32" stroke="#4a4a4a" stroke-width="0.9"/>
<line x1="293.1" y1="120.83" x2="295.5" y2="120.83" stroke="#4a4a4a" stroke-width="0.9"/>
<line x1="293.1" y1="93.34" x2="295.5" y2="93.34" stroke="#4a4a4a" stroke-width="0.9"/>
<line x1="293.1" y1="65.85" x2="295.5" y2="65.85" stroke="#4a4a4a" stroke-width="0.9"/>
<line x1="315.73" y1="203.3" x2="315.73" y2="205.5" stroke="#4a4a4a" stroke-width="0.8"/>
<line x1="335.95" y1="203.3" x2="335.95" y2="205.5" stroke="#4a4a4a" stroke-width="0.8"/>
<line x1="356.18" y1="203.3" x2="356.18" y2="205.5" stroke="#4a4a4a" stroke-width="0.8"/>
<line x1="376.41" y1="203.3" x2="376.41" y2="205.5" stroke="#4a4a4a" stroke-width="0.8"/>
<line x1="396.64" y1="203.3" x2="396.64" y2="205.5" stroke="#4a4a4a" stroke-width="0.8"/>
<line x1="416.86" y1="203.3" x2="416.86" y2="205.5" stroke="#4a4a4a" stroke-width="0.8"/>
<line x1="437.09" y1="203.3" x2="437.09" y2="205.5" stroke="#4a4a4a" stroke-width="0.8"/>
<line x1="457.32" y1="203.3" x2="457.32" y2="205.5" stroke="#4a4a4a" stroke-width="0.8"/>
<line x1="477.55" y1="203.3" x2="477.55" y2="205.5" stroke="#4a4a4a" stroke-width="0.8"/>
<line x1="497.77" y1="203.3" x2="497.77" y2="205.5" stroke="#4a4a4a" stroke-width="0.8"/>
<text x="305.61" y="214.5" font-size="6.3" text-anchor="middle" font-weight="bold" textLength="7.7" lengthAdjust="spacingAndGlyphs">NK</text>
<text x="325.84" y="214.5" font-size="6.3" text-anchor="middle" font-weight="bold" textLength="16.4" lengthAdjust="spacingAndGlyphs">PMBC</text>
<text x="346.07" y="214.5" font-size="6.3" text-anchor="middle" font-weight="bold" textLength="7.7" lengthAdjust="spacingAndGlyphs">NK</text>
<text x="366.3" y="214.5" font-size="6.3" text-anchor="middle" font-weight="bold" textLength="16.4" lengthAdjust="spacingAndGlyphs">PBMC</text>
<text x="386.52" y="214.5" font-size="6.3" text-anchor="middle" font-weight="bold" textLength="7.7" lengthAdjust="spacingAndGlyphs">NK</text>
<text x="406.75" y="214.5" font-size="6.3" text-anchor="middle" font-weight="bold" textLength="16.4" lengthAdjust="spacingAndGlyphs">PBMC</text>
<text x="447.2" y="214.5" font-size="6.3" text-anchor="middle" font-weight="bold" textLength="7.7" lengthAdjust="spacingAndGlyphs">NK</text>
<text x="467.43" y="214.5" font-size="6.3" text-anchor="middle" font-weight="bold" textLength="16.4" lengthAdjust="spacingAndGlyphs">PMBC</text>
<text x="487.66" y="214.5" font-size="6.3" text-anchor="middle" font-weight="bold" textLength="7.7" lengthAdjust="spacingAndGlyphs">NK</text>
<text x="507.89" y="214.5" font-size="6.3" text-anchor="middle" font-weight="bold" textLength="16.4" lengthAdjust="spacingAndGlyphs">PBMC</text>
<text x="323.3" y="226.9" font-size="8.6" font-weight="bold" textLength="67.8" lengthAdjust="spacingAndGlyphs">Healthy Controls</text>
<text x="456.8" y="227" font-size="8.6" font-weight="bold" textLength="45.9" lengthAdjust="spacingAndGlyphs">MDS Cases</text>
<text x="479.6" y="81.4" font-size="6.5" font-weight="bold" textLength="28.4" lengthAdjust="spacingAndGlyphs">E / T Ratio</text>
<rect x="486.6" y="85.3" width="17.6" height="28.4" fill="#fff" stroke="#555" stroke-width="0.8"/>
<rect x="488.6" y="88.1" width="2.4" height="2.4" fill="#000" stroke="none" stroke-width="1"/>
<text x="491.4" y="91.1" font-size="5" font-weight="bold" textLength="10.7" lengthAdjust="spacingAndGlyphs" fill="#333">50:1</text>
<rect x="488.7" y="95.15" width="2.2" height="2.2" fill="#cfcfcf" stroke="#444" stroke-width="0.5"/>
<text x="491.4" y="98.05" font-size="5" font-weight="bold" textLength="10.7" lengthAdjust="spacingAndGlyphs" fill="#333">25:1</text>
<rect x="488.7" y="102.1" width="2.2" height="2.2" fill="url(#hatch)" stroke="#222" stroke-width="0.5"/>
<text x="491.4" y="105" font-size="5" font-weight="bold" textLength="10.7" lengthAdjust="spacingAndGlyphs" fill="#333">12:1</text>
<rect x="488.7" y="109.05" width="2.2" height="2.2" fill="#fff" stroke="#777" stroke-width="0.5"/>
<text x="491.4" y="111.95" font-size="5" font-weight="bold" textLength="8" lengthAdjust="spacingAndGlyphs" fill="#333">6:1</text>
</svg>
</body></html>
